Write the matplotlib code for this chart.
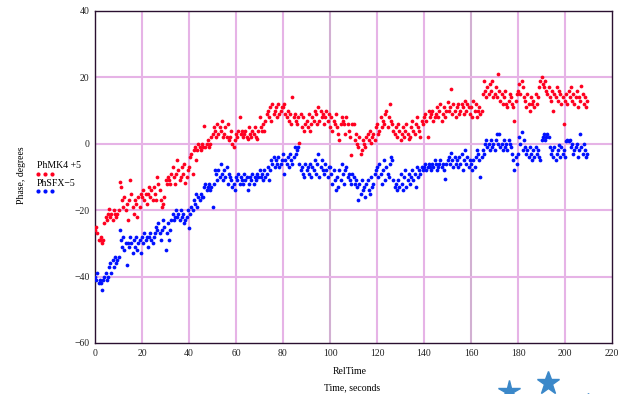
import numpy as np
import matplotlib
matplotlib.use("Agg")
import matplotlib.pyplot as plt
from matplotlib.lines import Line2D

# ---- data (0.5 s sampling) ----
time_step = 0.5
red_series = [
    -26, -25, -27, -29, -29, -28, -30, -29, -24, -22, -23, -21, -19.5, -22, -21, -23, -20, -21, -22, -21,
    -20, -11.5, -13, -17, -19, -16, -20, -18, -23, -17, -11, -15, -19, -21, -17, -18, -22, -16, -19, -15,
    -16, -14, -17, -15, -18, -15, -13, -16, -14, -17, -13, -15, -17, -10, -12, -14, -17, -19, -18, -16,
    -11, -12, -10, -11, -12, -9, -7, -10, -12, -9, -5, -8, -11, -10, -7, -9, -6, -11.7, -10, -8,
    -7, -4, -3, -9, -2, -1, -5, -2, 0, -1, -2, 0, -1, 5.5, -1, 0, 1, -1, 0, 2,
    3, 5, 4, 2, 6, 3, 5, 4, 7, 2, 3, 5, 2, 6, 1, 2, 4, 0, -1, 1,
    3, 2, 4, 8, 3, 4, 2, 3, 4, 2, 1.5, 5, 3, 2, 4, 3, 5, 2, 1.5, 4,
    8, 5, 4, 6, 4, 7, 9, 10, 8, 11, 7, 12, 9, 10, 11, 8, 12, 9, 10, 11,
    11, 12, 9, 8, 10, 7, 9, 6, 14, 8, 9, 7, 6, 8, 0.3, 9, 5, 8, 4, 6,
    7, 5, 9, 4, 6, 8, 7, 10, 9, 6, 11, 7, 10, 8, 9, 6, 8, 10, 7, 9,
    5, 8, 4, 7, 6, 9, 5, 3, 1, 6, 8, 7, 6, 3, 8, 6, 4, 2, -3.5, 6,
    6, 1, 3, 0, -1, 2, -3, -2, 1, 0, -1, 2, 3, 1, 4, 0.3, 2, 3, 1, 5,
    6, 3, 4, 8, 5, 7, 6, 9, 10, 5, 8, 12, 7, 6, 4, 3, 5, 2, 6, 4,
    1, 3, 5, 2, 4, 6, 3, 1.5, 2, 5, 7, 4, 3, 6, 8, 5, 4, 2, 7, 6,
    8, 9, 7, 2, 10, 8, 9, 10, 7, 8, 9, 11, 8, 10, 12, 7, 9, 11, 8, 10,
    12.5, 10, 11, 16.5, 9, 12, 10, 8, 11, 12, 9, 10, 12, 11, 9, 13, 10, 12, 11, 9,
    11, 8, 13, 10, 12, 8, 10, 11, 9, 10, 15, 19, 16, 14, 17, 15, 18, 16, 19, 14,
    15, 17, 14, 21, 16, 13, 15, 12, 14, 16, 12, 11, 13, 15, 14, 12, 11, 7, 13, 15,
    16, 18, 15, 19, 17, 14, 13, 11, 15, 12, 10, 14, 12, 13, 11, 15, 12, 14, 17, 19,
    20, 18, 17, 19, 16, 15, 17, 14, 13, 16, 10, 15, 14, 17, 13, 16, 15, 12, 14, 6,
    13, 15, 12, 16, 14, 17, 13, 15, 12, 14, 16, 11, 14, 13, 17.5, 15, 12, 14, 11, 13,
]
blue_series = [
    -40, -41, -39, -42, -41, -42, -44, -41, -40, -39, -41, -40, -37, -36, -39, -35, -37, -34, -36, -35,
    -34, -26, -29, -31, -28, -32, -30, -36.5, -30, -31, -28, -30, -33, -29, -31, -28, -32, -30, -29, -33,
    -28, -30, -27, -29, -28, -31, -28, -27, -29, -30, -28, -27, -25, -26, -24, -27, -29, -26, -23, -25,
    -32, -27, -24, -29, -26, -23, -21, -23, -22, -20, -22, -21, -23, -20, -22, -21, -24, -23, -22, -20,
    -25.5, -21, -19, -20, -17, -18, -15, -19, -16, -17, -15, -16, -16, -13, -12, -14, -13, -12, -14, -13,
    -19, -12, -8, -9, -11, -8, -10, -6, -9, -11, -8, -10, -7, -12, -9, -10, -11, -13, -12, -14,
    -10, -11, -9, -12, -10, -11, -12, -9, -11, -10, -14, -12, -10, -11, -9, -12, -10, -11, -9, -10,
    -8, -10, -9, -11, -8, -10, -9, -7, -11, -8, -5, -6, -4, -7, -5, -6, -4, -7, -6, -5,
    -3, -9, -5, -6, -4, -7, -3, -5, -6, -4, -1, -3, -2, -1, -6, -8, -7, -9, -10, -6,
    -8, -7, -9, -6, -10, -7, -8, -5, -9, -6, -3, -10, -7, -5, -8, -9, -6, -8, -10, -7,
    -7, -9, -12, -8, -11, -14, -10, -13, -8, -11, -6, -9, -12, -8, -7, -10, -9, -11, -12, -9,
    -10, -12, -11, -13, -17, -12, -15, -11, -14, -13, -16, -12, -11, -14, -15, -10, -13, -12, -9, -8,
    -7, -10, -6, -9, -12, -8, -5, -11, -7, -9, -10, -6, -4, -5, -11, -13, -12, -14, -11, -13,
    -9, -12, -14, -10, -8, -13, -11, -9, -12, -10, -8, -11, -9, -13, -7, -10, -8, -9, -7, -8,
    -7, -6, -8, -7, -6, -7, -8, -6, -7, -5, -6, -8, -7, -6, -5, -7, -6, -8, -10.7, -6,
    -5, -4, -6, -2.7, -5, -7, -4, -6, -5, -7, -4, -6, -3, -8, -5, -2, -6, -4, -7, -5,
    -6, -8, -5, -7, -4, -2, -3, -5, -10, -4, -2, -3, 0, 1, -1, 0, -2, 1, -1, 0,
    -2, 1, 3, 0, 3, -1, 0, -2, 1, -1, 0, -2, 1, 0, -1, -3, -5, -8, -4, -6,
    -3, 2, 0, 3.7, -2, 1, -1, -3, -2, -4, -1, -3, -5, -2, -4, -1, -3, -2, -4, -5,
    1, 2, 3, 1, 2, 3, 2, -1, -3, -2, -4, -1, -5, -3, -2, -0.5, -4, -1, -3, -2,
    -4, 0.7, 1, 0.7, 1, -1, 0, -3, -2, -1, 0, -4, -2, 3, -1, -3, 0, -2, -4, -3,
]
series_labels = ["PhMK4 +5", "PhSFX\u22125"]
x_ticks = [0, 20, 40, 60, 80, 100, 120, 140, 160, 180, 200, 220]
y_ticks = [-60, -40, -20, 0, 20, 40]

time_red = np.arange(len(red_series)) * time_step
time_blue = np.arange(len(blue_series)) * time_step

serif = ["Liberation Serif", "DejaVu Serif"]
plt.rcParams["font.family"] = serif

fig = plt.figure(figsize=(6.22, 3.94), dpi=100)
ax = fig.add_axes([95 / 622, 1 - 343 / 394, (612 - 95) / 622, (343 - 11) / 394])

grid_col = "#e6b3e6"
for xv in x_ticks[1:-1]:
    c = "#d2b0d2" if xv in (100, 160) else grid_col
    ax.axvline(xv, color=c, lw=1.5, zorder=0)
for yv in y_ticks[1:-1]:
    ax.axhline(yv, color=grid_col, lw=1.5, zorder=0)

ax.plot(time_red, red_series, "o", color="#ff0020", ms=2.7, mew=0, zorder=3)
ax.plot(time_blue, blue_series, "o", color="#0010ff", ms=2.7, mew=0, zorder=3)

ax.set_xlim(0, 220)
ax.set_ylim(-60, 40)
ax.set_xticks(x_ticks)
ax.set_yticks(y_ticks)
ax.set_xticklabels([str(v) for v in x_ticks])
ax.set_yticklabels([str(v).replace("-", "\u2212") for v in y_ticks])
ax.tick_params(length=0, labelsize=7, pad=4, colors="#222222")
for s in ax.spines.values():
    s.set_color("#2a1030")
    s.set_linewidth(1.0)

fig.text(350 / 622, 1 - 371 / 394, "RelTime", ha="center", va="center", fontsize=7, family=serif)
fig.text(352 / 622, 1 - 388 / 394, "Time, seconds", ha="center", va="center", fontsize=7, family=serif)
fig.text(22 / 622, 1 - 175 / 394, "Phase, degrees", ha="center", va="center", rotation=90,
         fontsize=7, family=serif)

# legend (outside axes, left)
fig.text(37 / 622, 1 - 165 / 394, series_labels[0], ha="left", va="center", fontsize=7, family=serif)
fig.text(37 / 622, 1 - 183 / 394, series_labels[1], ha="left", va="center", fontsize=7, family=serif)
fig.add_artist(Line2D([38 / 622, 45 / 622, 52 / 622], [1 - 174 / 394] * 3, ls="none", marker="o",
                      ms=3.0, mew=0, color="#ff0020", transform=fig.transFigure))
fig.add_artist(Line2D([38 / 622, 45 / 622, 52 / 622], [1 - 191 / 394] * 3, ls="none", marker="o",
                      ms=3.0, mew=0, color="#0010ff", transform=fig.transFigure))

# decorative stars at the bottom right
fig.add_artist(Line2D([509 / 622], [1 - 391 / 394], ls="none", marker="*", ms=16,
                      color="#3b88c9", transform=fig.transFigure))
fig.add_artist(Line2D([548 / 622], [1 - 383 / 394], ls="none", marker="*", ms=17,
                      color="#3b88c9", transform=fig.transFigure))
fig.add_artist(Line2D([588 / 622], [1 - 401 / 394], ls="none", marker="*", ms=12,
                      color="#3b88c9", transform=fig.transFigure))

fig.savefig("out.png", dpi=100)
